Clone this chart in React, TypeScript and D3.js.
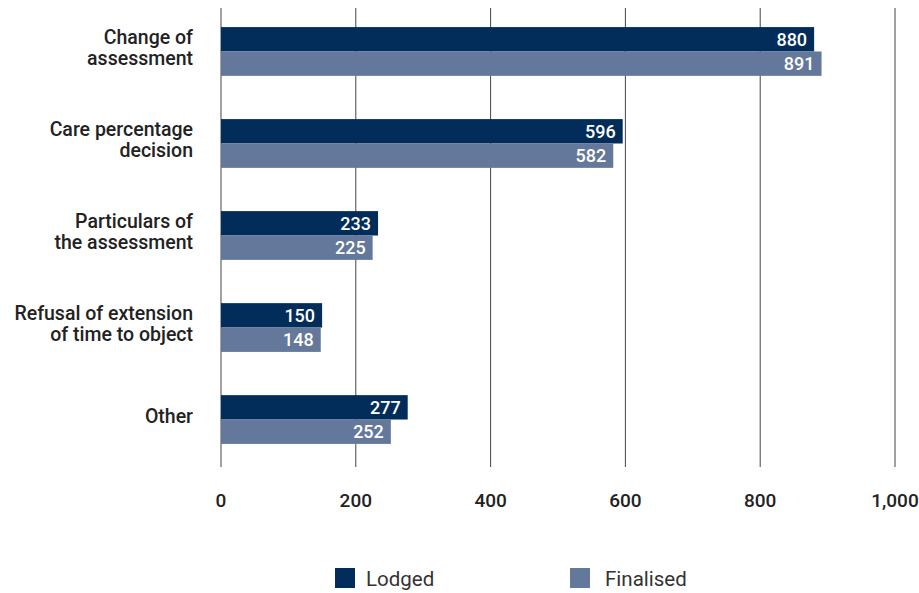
import React from "react";
import * as d3 from "d3";

const categories: string[][] = [
  ["Change of", "assessment"],
  ["Care percentage", "decision"],
  ["Particulars of", "the assessment"],
  ["Refusal of extension", "of time to object"],
  ["Other"],
];
const lodged = [880, 596, 233, 150, 277];
const finalised = [891, 582, 225, 148, 252];
const seriesNames = ["Lodged", "Finalised"];
const seriesColors = ["#022d5b", "#64789b"];
const xTicks = [0, 200, 400, 600, 800, 1000];

const W = 919;
const H = 593;
const FONT = "Roboto, 'Noto Sans', sans-serif";

export default function App() {
  const x = d3.scaleLinear().domain([0, 1000]).range([221, 895]);
  const idx = categories.map((_, i) => String(i));
  const y = d3.scaleBand().domain(idx).range([5, 466]).paddingInner(0.47).paddingOuter(0.24);
  const sub = d3.scaleBand().domain(seriesNames).range([0, y.bandwidth()]);
  const series = [lodged, finalised];
  const fmt = d3.format(",");
  const legendBox = [335, 570];
  const legendText = [366, 605];

  return (
    <svg width={W} height={H} style={{ position: "absolute", left: 0, top: 0 }}>
      <rect width={W} height={H} fill="#fff" />
      {xTicks.map((t) => (
        <line key={t} x1={x(t)} x2={x(t)} y1={8} y2={467} stroke="#444" strokeWidth={1} />
      ))}
      {series.map((vals, si) =>
        vals.map((v, i) => {
          const yy = (y(String(i)) as number) + (sub(seriesNames[si]) as number);
          return (
            <g key={`${si}-${i}`}>
              <rect x={x(0)} y={yy} width={x(v) - x(0)} height={sub.bandwidth()} fill={seriesColors[si]} />
              <text
                x={x(v) - 7}
                y={yy + sub.bandwidth() / 2}
                dy="0.36em"
                textAnchor="end"
                fill="#fff"
                fontFamily={FONT}
                fontWeight={500}
                fontSize={18}
              >
                {v}
              </text>
            </g>
          );
        })
      )}
      {categories.map((lines, i) => {
        const cy = (y(String(i)) as number) + y.bandwidth() / 2 - 4;
        const lh = 21;
        const start = cy - ((lines.length - 1) * lh) / 2;
        return (
          <text key={i} textAnchor="end" fill="#222" fontFamily={FONT} fontWeight={500} fontSize={19.5}>
            {lines.map((l, k) => (
              <tspan key={k} x={193} y={start + k * lh} dy="0.36em">
                {l}
              </tspan>
            ))}
          </text>
        );
      })}
      {xTicks.map((t) => (
        <text
          key={t}
          x={x(t)}
          y={500}
          dy="0.36em"
          textAnchor="middle"
          fill="#222"
          fontFamily={FONT}
          fontWeight={500}
          fontSize={19}
        >
          {fmt(t)}
        </text>
      ))}
      {seriesNames.map((n, i) => (
        <g key={n}>
          <rect x={legendBox[i]} y={568} width={20} height={20} fill={seriesColors[i]} />
          <text x={legendText[i]} y={579} dy="0.36em" fill="#333" fontFamily={FONT} fontSize={20.5}>
            {n}
          </text>
        </g>
      ))}
    </svg>
  );
}
